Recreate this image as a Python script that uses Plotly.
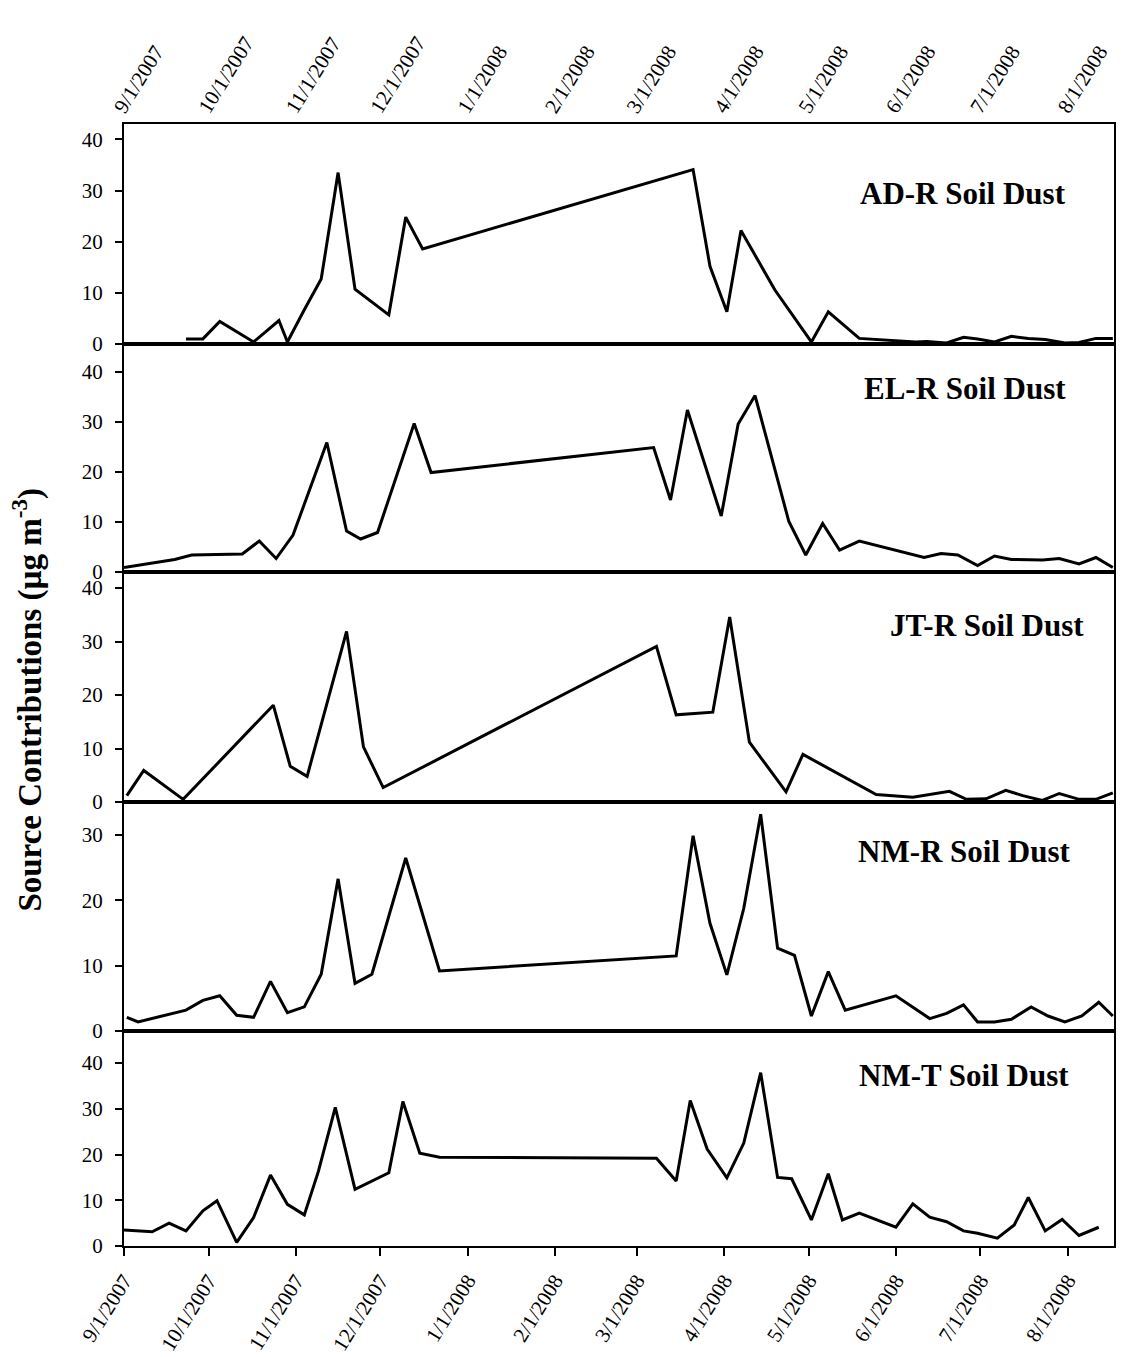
import plotly.graph_objects as go

# ---- Soil dust source contributions (ug m-3) at five sites ----
ad_r_dates = ["2007-09-23", "2007-09-29", "2007-10-05", "2007-10-17", "2007-10-26", "2007-10-29",
              "2007-11-04", "2007-11-10", "2007-11-16", "2007-11-22", "2007-12-04", "2007-12-10",
              "2007-12-16", "2008-03-21", "2008-03-27", "2008-04-02", "2008-04-07", "2008-04-19",
              "2008-05-02", "2008-05-08", "2008-05-19", "2008-05-27", "2008-06-08", "2008-06-12",
              "2008-06-19", "2008-06-25", "2008-06-30", "2008-07-06", "2008-07-12", "2008-07-18",
              "2008-07-24", "2008-07-31", "2008-08-05", "2008-08-11", "2008-08-17"]
ad_r_vals = [1.0, 1.0, 4.4, 0.4, 4.6, 0.4, 6.7, 12.7, 33.5, 10.7, 5.7, 24.8, 18.6, 34.1, 15.2,
             6.3, 22.2, 10.6, 0.4, 6.3, 1.1, 0.8, 0.4, 0.5, 0.2, 1.3, 1.0, 0.4, 1.5, 1.1, 0.9,
             0.2, 0.3, 1.1, 1.1]

el_r_dates = ["2007-09-01", "2007-09-19", "2007-09-25", "2007-10-13", "2007-10-19", "2007-10-25",
              "2007-10-31", "2007-11-12", "2007-11-19", "2007-11-24", "2007-11-30", "2007-12-13",
              "2007-12-19", "2008-03-07", "2008-03-13", "2008-03-19", "2008-03-31", "2008-04-06",
              "2008-04-12", "2008-04-24", "2008-04-30", "2008-05-06", "2008-05-12", "2008-05-19",
              "2008-06-11", "2008-06-17", "2008-06-23", "2008-06-30", "2008-07-06", "2008-07-12",
              "2008-07-23", "2008-07-29", "2008-08-05", "2008-08-11", "2008-08-17"]
el_r_vals = [0.9, 2.5, 3.4, 3.6, 6.2, 2.7, 7.4, 25.9, 8.2, 6.6, 7.9, 29.7, 19.9, 24.9, 14.4,
             32.4, 11.2, 29.6, 35.3, 10.1, 3.4, 9.7, 4.4, 6.2, 2.9, 3.7, 3.4, 1.3, 3.2, 2.5,
             2.4, 2.7, 1.6, 2.9, 0.9]

jt_r_dates = ["2007-09-02", "2007-09-08", "2007-09-22", "2007-10-24", "2007-10-30", "2007-11-05",
              "2007-11-19", "2007-11-25", "2007-12-02", "2008-03-08", "2008-03-15", "2008-03-28",
              "2008-04-03", "2008-04-10", "2008-04-23", "2008-04-29", "2008-05-25", "2008-06-07",
              "2008-06-20", "2008-06-26", "2008-07-03", "2008-07-10", "2008-07-16", "2008-07-23",
              "2008-07-29", "2008-08-05", "2008-08-11", "2008-08-17"]
jt_r_vals = [1.2, 5.9, 0.5, 18.1, 6.7, 4.8, 31.9, 10.3, 2.7, 29.1, 16.3, 16.8, 34.6, 11.2, 1.9,
             8.9, 1.4, 0.9, 2.0, 0.5, 0.6, 2.2, 1.2, 0.3, 1.6, 0.5, 0.5, 1.7]

nm_r_dates = ["2007-09-02", "2007-09-06", "2007-09-23", "2007-09-29", "2007-10-05", "2007-10-11",
              "2007-10-17", "2007-10-23", "2007-10-29", "2007-11-04", "2007-11-10", "2007-11-16",
              "2007-11-22", "2007-11-28", "2007-12-10", "2007-12-22", "2008-03-15", "2008-03-21",
              "2008-03-27", "2008-04-02", "2008-04-08", "2008-04-14", "2008-04-20", "2008-04-26",
              "2008-05-02", "2008-05-08", "2008-05-14", "2008-06-01", "2008-06-13", "2008-06-19",
              "2008-06-25", "2008-06-30", "2008-07-06", "2008-07-12", "2008-07-19", "2008-07-25",
              "2008-07-31", "2008-08-06", "2008-08-12", "2008-08-17"]
nm_r_vals = [2.1, 1.4, 3.2, 4.7, 5.4, 2.4, 2.1, 7.6, 2.8, 3.7, 8.7, 23.3, 7.3, 8.7, 26.5, 9.2,
             11.5, 29.9, 16.5, 8.6, 18.8, 33.2, 12.7, 11.6, 2.3, 9.1, 3.2, 5.4, 1.9, 2.7, 4.0,
             1.4, 1.4, 1.8, 3.7, 2.3, 1.4, 2.3, 4.4, 2.3]

nm_t_dates = ["2007-09-01", "2007-09-11", "2007-09-17", "2007-09-23", "2007-09-29", "2007-10-04",
              "2007-10-11", "2007-10-17", "2007-10-23", "2007-10-29", "2007-11-04", "2007-11-09",
              "2007-11-15", "2007-11-22", "2007-12-04", "2007-12-09", "2007-12-15", "2007-12-22",
              "2008-03-08", "2008-03-15", "2008-03-20", "2008-03-26", "2008-04-02", "2008-04-08",
              "2008-04-14", "2008-04-20", "2008-04-25", "2008-05-02", "2008-05-08", "2008-05-13",
              "2008-05-19", "2008-06-01", "2008-06-07", "2008-06-13", "2008-06-19", "2008-06-25",
              "2008-06-30", "2008-07-07", "2008-07-13", "2008-07-18", "2008-07-24", "2008-07-30",
              "2008-08-05", "2008-08-12"]
nm_t_vals = [3.5, 3.1, 5.0, 3.3, 7.7, 9.9, 0.8, 6.2, 15.5, 9.1, 6.8, 16.3, 30.3, 12.4, 16.0,
             31.6, 20.3, 19.4, 19.2, 14.2, 31.8, 21.2, 14.9, 22.5, 37.9, 15.0, 14.7, 5.7, 15.8,
             5.7, 7.2, 4.1, 9.2, 6.3, 5.3, 3.3, 2.8, 1.7, 4.6, 10.6, 3.3, 5.8, 2.3, 4.1]

panel_titles = ["AD-R Soil Dust", "EL-R Soil Dust", "JT-R Soil Dust", "NM-R Soil Dust", "NM-T Soil Dust"]
y_tick_values = [[0, 10, 20, 30, 40], [0, 10, 20, 30, 40], [0, 10, 20, 30, 40],
                 [0, 10, 20, 30], [0, 10, 20, 30, 40]]

series = [(ad_r_dates, ad_r_vals), (el_r_dates, el_r_vals), (jt_r_dates, jt_r_vals),
          (nm_r_dates, nm_r_vals), (nm_t_dates, nm_t_vals)]

# ---- panel geometry (top to bottom) ----
domains = [[0.8039, 1.0], [0.6007, 0.8039], [0.3957, 0.6007], [0.1916, 0.3957], [0.0, 0.1916]]
y_ranges = [[0, 43.0], [0, 45.6], [0, 43.0], [0, 35.07], [0, 47.0]]
title_x = [1068, 1068, 1086, 1073, 1071]            # right edge of each panel label, px
title_y = [0.9385, 0.7647, 0.5526, 0.3520, 0.1524]  # paper fraction
x_range = ["2007-09-01", "2008-08-17 10:00"]

SERIF = "Liberation Serif, Times New Roman, serif"
W, H = 1141, 1357
ML, MR, MT, MB = 124, 27, 124, 111

fig = go.Figure()
for i, (dates, vals) in enumerate(series):
    n = "" if i == 0 else str(i + 1)
    fig.add_trace(go.Scatter(x=dates, y=vals, mode="lines",
                             line=dict(color="black", width=3),
                             xaxis="x" + n, yaxis="y" + n, showlegend=False,
                             hoverinfo="x+y"))

layout = dict(
    width=W, height=H,
    margin=dict(l=ML, r=MR, t=MT, b=MB, autoexpand=False),
    paper_bgcolor="white", plot_bgcolor="white",
    font=dict(family=SERIF, size=21, color="black"),
    showlegend=False,
)

for i in range(5):
    n = "" if i == 0 else str(i + 1)
    xa = dict(
        domain=[0, 1], anchor="y" + n, type="date", range=x_range,
        automargin=False,
        showline=True, linecolor="black", linewidth=2, mirror=True,
        showgrid=False, zeroline=False,
        tick0="2007-09-01", dtick="M1", tickformat="%-m/%-d/%Y",
        tickangle=-58, tickfont=dict(family=SERIF, size=21),
    )
    if i == 0:
        xa.update(side="top", ticks="", showticklabels=True,
                  ticklabelstandoff=-6, ticklabelshift=-8)
    elif i == 4:
        xa.update(side="bottom", ticks="outside", ticklen=8, tickwidth=2,
                  tickcolor="black", showticklabels=True, ticklabelstandoff=4)
    else:
        xa.update(ticks="", showticklabels=False)
    if i > 0:
        xa["matches"] = "x"
    layout["xaxis" + n] = xa

    layout["yaxis" + n] = dict(
        domain=domains[i], anchor="x" + n, range=y_ranges[i], automargin=False,
        tickvals=y_tick_values[i], ticks="outside", ticklen=7, tickwidth=2,
        tickcolor="black", ticklabelstandoff=8,
        showline=True, linecolor="black", linewidth=2, mirror=True,
        showgrid=False, zeroline=False,
        tickfont=dict(family=SERIF, size=21),
    )

annotations = []
plot_w = W - ML - MR
for i, t in enumerate(panel_titles):
    annotations.append(dict(
        text="<b>" + t + "</b>", xref="paper", yref="paper",
        x=(title_x[i] - ML) / plot_w, y=title_y[i],
        xanchor="right", yanchor="middle", showarrow=False,
        font=dict(family=SERIF, size=31, color="black"),
    ))

annotations.append(dict(
    text="<b>Source Contributions (µg m<sup>-3</sup>)</b>",
    xref="paper", yref="paper", x=(28 - ML) / plot_w, y=0.487,
    xanchor="center", yanchor="middle", textangle=-90, showarrow=False,
    font=dict(family=SERIF, size=33, color="black"),
))
layout["annotations"] = annotations

fig.update_layout(**layout)
fig.write_html("out.html")
